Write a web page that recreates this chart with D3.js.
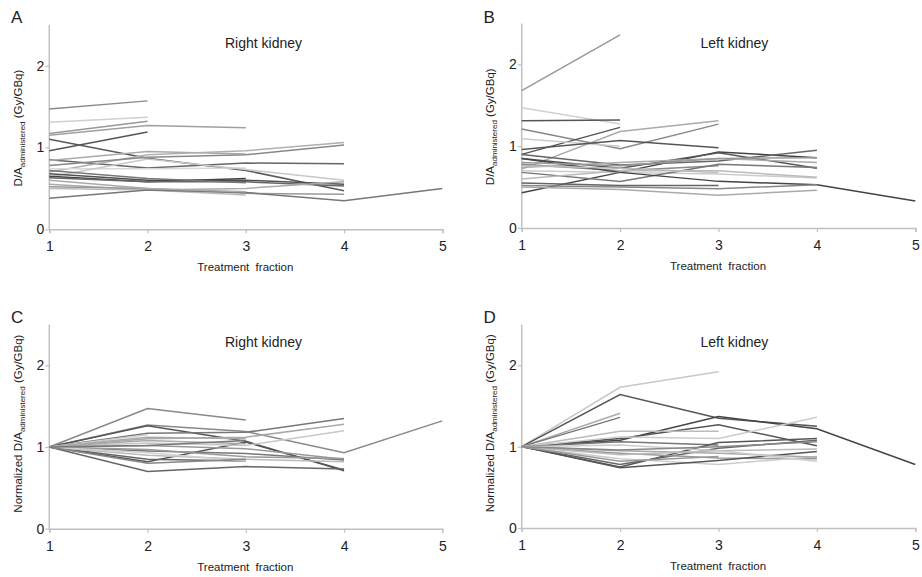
<!DOCTYPE html>
<html><head><meta charset="utf-8">
<script src="https://cdn.jsdelivr.net/npm/d3@7"></script>
<style>body{margin:0;background:#fff}svg{display:block}text{font-family:"Liberation Sans",Arial,sans-serif;fill:#222}</style>
</head><body><svg id="c" width="922" height="577"></svg>
<script>
const fractionTicks = [1, 2, 3, 4, 5];
const yTicks = [0, 1, 2];

const rightKidneyAbs = [
  [1.47, 1.57], [1.31, 1.37], [1.17, 1.32], [1.15, 1.27, 1.24], [0.96, 1.19],
  [1.10, 0.87, 0.72, 0.47], [0.85, 0.75, 0.81, 0.80], [0.84, 0.95, 0.92],
  [0.70, 0.91, 0.96, 1.06], [0.78, 0.88, 0.91, 1.03], [0.74, 0.74, 0.75],
  [0.64, 0.86, 0.73, 0.60], [0.68, 0.60, 0.60, 0.55], [0.65, 0.58, 0.62],
  [0.63, 0.58, 0.58, 0.53], [0.72, 0.62, 0.57], [0.55, 0.48, 0.50, 0.58],
  [0.52, 0.50, 0.44, 0.43], [0.50, 0.48, 0.42], [0.38, 0.48, 0.45, 0.35, 0.50],
  [0.60, 0.50, 0.46]
];
const leftKidneyAbs = [
  [1.68, 2.36], [1.47, 1.27], [1.31, 1.32], [1.21, 0.97, 1.27], [0.72, 1.18, 1.31],
  [0.90, 1.23], [1.09, 1.00], [0.96, 1.07, 0.98], [0.43, 0.68, 0.93, 0.86],
  [0.85, 0.73, 0.92, 0.73], [0.90, 0.77, 0.82, 0.95], [0.78, 0.70, 0.76],
  [0.74, 0.80, 0.85, 0.80], [0.70, 0.68, 0.66, 0.61], [0.68, 0.57, 0.78, 0.74],
  [0.60, 0.70, 0.70, 0.62], [0.85, 0.68, 0.57, 0.53, 0.33], [0.52, 0.50, 0.48, 0.53],
  [0.55, 0.52, 0.52], [0.50, 0.47, 0.40, 0.46], [0.76, 0.73, 0.68], [0.80, 0.76, 0.85, 0.86]
];
const rightKidneyNorm = [
  [1, 1.47, 1.33], [1, 1.27, 1.19, 0.93, 1.32], [1, 1.26, 1.07, 0.71], [1, 0.82, 1.06, 0.72],
  [1, 1.17, 1.18, 1.35], [1, 1.10, 1.12, 1.28], [1, 1.05, 1.02, 1.20], [1, 0.70, 0.76, 0.73],
  [1, 0.85, 0.83], [1, 1.02, 0.98, 0.85], [1, 0.95, 0.92, 0.84], [1, 0.90, 0.85, 0.82],
  [1, 1.08, 1.04], [1, 0.97, 0.88, 0.86], [1, 1.15], [1, 0.93, 0.83], [1, 1.12, 1.10],
  [1, 0.80, 0.85], [1, 1.02, 1.08]
];
const leftKidneyNorm = [
  [1, 1.73, 1.92], [1, 1.64, 1.35, 1.25], [1, 1.08, 1.37, 1.22, 0.78], [1, 1.10, 1.27, 1.01],
  [1, 1.41], [1, 1.36], [1, 1.19, 1.19], [1, 1.12, 1.10, 1.36], [1, 1.06, 1.02],
  [1, 0.75, 1.05, 1.10], [1, 0.78, 0.98, 1.08], [1, 0.92, 0.86, 0.85], [1, 0.85, 0.78, 0.88],
  [1, 0.74, 0.83, 0.94], [1, 0.95, 0.92, 0.87], [1, 0.90, 0.95, 0.97], [1, 1.02, 0.95, 0.82],
  [1, 0.82, 0.88], [1, 0.96, 1.00, 1.06]
];

const shadesA = ["#8a8a8a", "#cfcfcf", "#999", "#a0a0a0", "#555", "#5a5a5a", "#666", "#aaa", "#b0b0b0", "#888", "#d8d8d8", "#c8c8c8", "#505050", "#444", "#666", "#777", "#aaa", "#999", "#bbb", "#777", "#aaa"];
const shadesB = ["#999", "#d0d0d0", "#555", "#888", "#aaa", "#555", "#ccc", "#555", "#444", "#555", "#666", "#888", "#aaa", "#ccc", "#777", "#bbb", "#444", "#888", "#666", "#aaa", "#bbb", "#999"];
const shadesC = ["#888", "#888", "#555", "#555", "#777", "#aaa", "#c8c8c8", "#666", "#666", "#999", "#777", "#bbb", "#aaa", "#999", "#ccc", "#d0d0d0", "#aaa", "#888", "#777"];
const shadesD = ["#c8c8c8", "#555", "#444", "#555", "#aaa", "#777", "#bbb", "#ccc", "#777", "#555", "#666", "#999", "#ccc", "#555", "#aaa", "#bbb", "#ccc", "#999", "#888"];

const panels = [
  {letter: "A", title: "Right kidney", data: rightKidneyAbs, shades: shadesA, norm: false, x0: 49.3, x1: 442.3, y0: 229.3, y1: 24.8, dx: 0, dy: 0},
  {letter: "B", title: "Left kidney", data: leftKidneyAbs, shades: shadesB, norm: false, x0: 521.7, x1: 915.3, y0: 228, y1: 23.5, dx: 472.4, dy: 0},
  {letter: "C", title: "Right kidney", data: rightKidneyNorm, shades: shadesC, norm: true, x0: 49.3, x1: 442.3, y0: 528.7, y1: 324.5, dx: 0, dy: 299.5},
  {letter: "D", title: "Left kidney", data: leftKidneyNorm, shades: shadesD, norm: true, x0: 521.7, x1: 915.3, y0: 528, y1: 324.6, dx: 472.4, dy: 299.5}
];

const svg = d3.select("#c");
const axisColor = "#c0c0c0";

panels.forEach(p => {
  const g = svg.append("g");
  const x = d3.scaleLinear().domain([1, 5]).range([p.x0, p.x1]);
  const y = d3.scaleLinear().domain([0, 2.5]).range([p.y0, p.y1]);

  const xa = g.append("g").attr("transform", `translate(0,${p.y0})`)
    .call(d3.axisBottom(x).tickValues(fractionTicks).tickSize(4).tickPadding(8).tickFormat(d3.format("d")));
  const ya = g.append("g").attr("transform", `translate(${p.x0},0)`)
    .call(d3.axisLeft(y).tickValues(yTicks).tickSize(4).tickPadding(1).tickFormat(d3.format("d")));
  [xa, ya].forEach(a => {
    a.select(".domain").attr("stroke", axisColor).attr("stroke-width", 1.5);
    a.selectAll(".tick line").attr("stroke", axisColor).attr("stroke-width", 1.2);
    a.selectAll(".tick text").attr("font-size", 14).attr("fill", "#222").attr("font-family", "Liberation Sans, Arial, sans-serif");
  });
  ya.select(".domain").attr("d", `M0,${p.y0}V${p.y1}`);

  const line = d3.line().x((d, i) => x(fractionTicks[i])).y(d => y(d));
  g.selectAll("path.s").data(p.data).join("path").attr("class", "s")
    .attr("d", d => line(d)).attr("fill", "none")
    .attr("stroke", (d, i) => p.shades[i % p.shades.length]).attr("stroke-width", 1.5);

  g.append("text").attr("x", p.dx + 11).attr("y", p.dy + 23).attr("font-size", 17).text(p.letter);
  g.append("text").attr("x", (p.dx + (p.letter === "A" || p.letter === "C" ? 263.5 : 262))).attr("y", p.dy + 47.5)
    .attr("text-anchor", "middle").attr("font-size", 14).text(p.title);
  g.append("text").attr("x", (p.x0 + p.x1) / 2 - 0.5).attr("y", p.y0 + 42)
    .attr("text-anchor", "middle").attr("font-size", 11.5).attr("xml:space", "preserve").text("Treatment  fraction");

  const cy = (p.y0 + p.y1) / 2 + (p.norm ? -3 : 1);
  const lab = g.append("text").attr("transform", `translate(${p.dx + 22},${cy}) rotate(-90)`)
    .attr("text-anchor", "middle").attr("font-size", 11.5);
  lab.append("tspan").text(p.norm ? "Normalized D/A" : "D/A");
  lab.append("tspan").attr("font-size", 8).attr("dy", 2.5).text("administered");
  lab.append("tspan").attr("dy", -2.5).attr("xml:space", "preserve").text(" (Gy/GBq)");
});
</script></body></html>
